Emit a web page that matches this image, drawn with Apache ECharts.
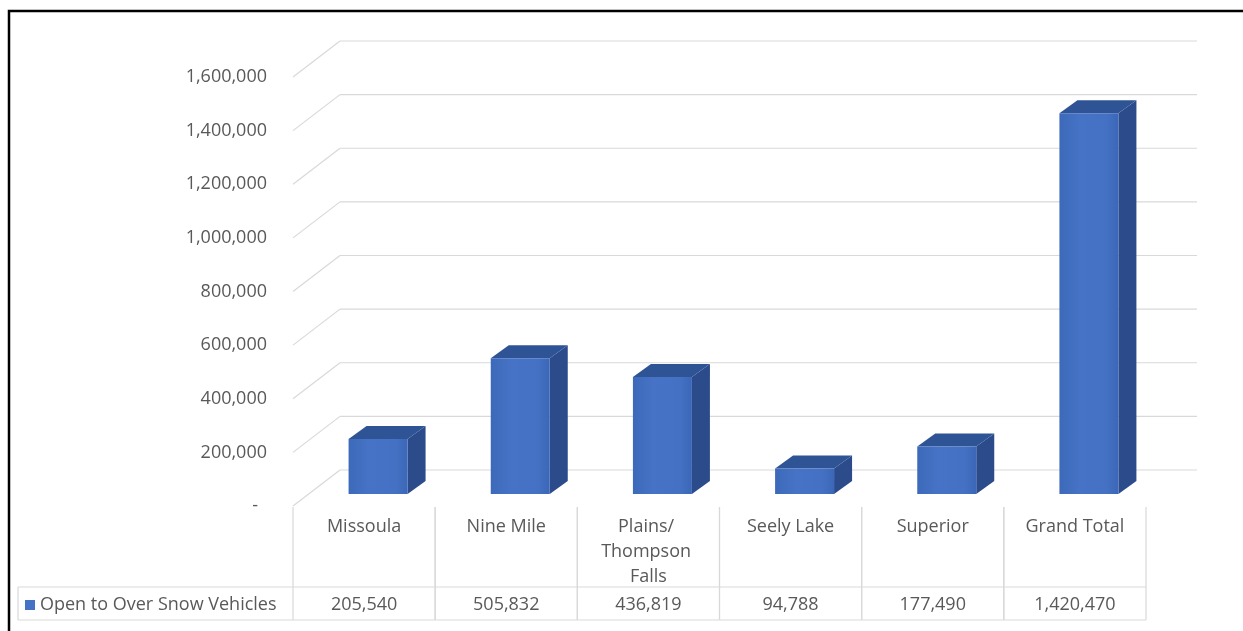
<!DOCTYPE html>
<html>
<head>
<meta charset="utf-8">
<script src="https://cdn.jsdelivr.net/npm/echarts@6/dist/echarts.min.js"></script>
<style>
html,body{margin:0;padding:0;background:#fff;}
#chart{width:1243px;height:631px;}
</style>
</head>
<body>
<div id="chart"></div>
<script>
// ---- data ----
const categories = ['Missoula', 'Nine Mile', 'Plains/ Thompson Falls', 'Seely Lake', 'Superior', 'Grand Total'];
const values = [205540, 505832, 436819, 94788, 177490, 1420470];
const seriesName = 'Open to Over Snow Vehicles';
const yTicks = [0, 200000, 400000, 600000, 800000, 1000000, 1200000, 1400000, 1600000];

// ---- style / geometry ----
const FONT = '"Open Sans", "Noto Sans", sans-serif';
const FS = 18;
const TXT = '#595959';
const GRID = '#d9d9d9';
const WALL_DX = 47, WALL_DY = -36, WALL_RIGHT_EXTRA = 51;
const BAR_SHIFT = 14, BAR_W = 59, BAR_FRONT_DY = -12, BAR_DX = 18, BAR_DY = -13;
const TABLE_TOP = 1, ROW_SPLIT = 81, TABLE_BOTTOM = 114, LEGEND_LEFT = 18;

const fmt = v => v.toLocaleString('en-US');

const chart = echarts.init(document.getElementById('chart'), null, {renderer: 'canvas'});

function gridRender(params, api) {
  const cs = params.coordSys;
  const v = api.value(0);
  const y = api.coord([0, v])[1];
  const x0 = cs.x;
  const xb = x0 + WALL_DX, yb = y + WALL_DY;
  const xr = cs.x + cs.width + WALL_RIGHT_EXTRA;
  const st = {stroke: GRID, lineWidth: 1.2, fill: null};
  return {
    type: 'group',
    children: [
      {type: 'line', shape: {x1: x0, y1: y, x2: xb, y2: yb}, style: st},
      {type: 'line', shape: {x1: xb, y1: yb, x2: xr, y2: yb}, style: st}
    ]
  };
}

function barRender(params, api) {
  const i = api.value(0);
  const v = api.value(1);
  const c0 = api.coord([i, 0]);
  const c1 = api.coord([i, v]);
  const xl = c0[0] + BAR_SHIFT - BAR_W / 2;
  const xr = xl + BAR_W;
  const yb = c0[1] + BAR_FRONT_DY;
  const yt = c1[1] + BAR_FRONT_DY;
  const front = new echarts.graphic.LinearGradient(0, 0, 1, 0, [
    {offset: 0, color: '#3d69ba'},
    {offset: 0.35, color: '#4673c5'},
    {offset: 0.8, color: '#4471c3'},
    {offset: 1, color: '#3c67b8'}
  ]);
  return {
    type: 'group',
    children: [
      {type: 'polygon', shape: {points: [[xr, yt], [xr + BAR_DX, yt + BAR_DY], [xr + BAR_DX, yb + BAR_DY], [xr, yb]]},
       style: {fill: '#2b4b8b'}},
      {type: 'polygon', shape: {points: [[xl, yt], [xl + BAR_DX, yt + BAR_DY], [xr + BAR_DX, yt + BAR_DY], [xr, yt]]},
       style: {fill: '#2f5496'}},
      {type: 'rect', shape: {x: xl, y: yt, width: BAR_W, height: yb - yt}, style: {fill: front}}
    ]
  };
}

function tableRender(params, api) {
  const i = api.value(0);
  const v = api.value(1);
  const c0 = api.coord([i, 0]);
  const bw = api.size([1, 0])[0];
  const xl = c0[0] - bw / 2, xr = c0[0] + bw / 2;
  const y0 = c0[1];
  const st = {stroke: GRID, lineWidth: 1.2, fill: null};
  const ch = [
    {type: 'line', shape: {x1: xl, y1: y0 + TABLE_TOP, x2: xl, y2: y0 + TABLE_BOTTOM}, style: st},
    {type: 'line', shape: {x1: xr, y1: y0 + TABLE_TOP, x2: xr, y2: y0 + TABLE_BOTTOM}, style: st},
    {type: 'line', shape: {x1: xl, y1: y0 + ROW_SPLIT, x2: xr, y2: y0 + ROW_SPLIT}, style: st},
    {type: 'line', shape: {x1: xl, y1: y0 + TABLE_BOTTOM, x2: xr, y2: y0 + TABLE_BOTTOM}, style: st},
    {type: 'text', style: {text: fmt(v), x: c0[0], y: y0 + (ROW_SPLIT + TABLE_BOTTOM) / 2 + 1,
      align: 'center', verticalAlign: 'middle', fontSize: FS, fontFamily: FONT, fill: TXT}}
  ];
  if (i === 0) {
    ch.push(
      {type: 'line', shape: {x1: LEGEND_LEFT, y1: y0 + ROW_SPLIT, x2: xl, y2: y0 + ROW_SPLIT}, style: st},
      {type: 'line', shape: {x1: LEGEND_LEFT, y1: y0 + TABLE_BOTTOM, x2: xl, y2: y0 + TABLE_BOTTOM}, style: st},
      {type: 'line', shape: {x1: LEGEND_LEFT, y1: y0 + ROW_SPLIT, x2: LEGEND_LEFT, y2: y0 + TABLE_BOTTOM}, style: st}
    );
  }
  return {type: 'group', children: ch};
}

const option = {
  animation: false,
  backgroundColor: '#ffffff',
  grid: {left: 293, right: 97, top: 77, bottom: 125, containLabel: false},
  legend: {
    data: [seriesName],
    left: 25, top: 596,
    icon: 'rect', itemWidth: 10, itemHeight: 10, itemGap: 5, padding: 0,
    textStyle: {fontSize: FS, color: TXT, fontFamily: FONT},
    selectedMode: false
  },
  xAxis: {
    type: 'category',
    data: categories,
    axisLine: {show: false},
    axisTick: {show: false},
    splitLine: {show: false},
    axisLabel: {
      interval: 0, margin: 8, verticalAlign: 'top', lineHeight: 25,
      width: 115, overflow: 'break',
      fontSize: FS, color: TXT, fontFamily: FONT
    }
  },
  yAxis: {
    type: 'value',
    min: 0, max: 1600000, interval: 200000,
    axisLine: {show: false},
    axisTick: {show: false},
    splitLine: {show: false},
    axisLabel: {
      margin: 26, fontSize: FS, color: TXT, fontFamily: FONT,
      formatter: v => v === 0 ? '{d|-}' : fmt(v),
      rich: {d: {fontSize: FS, color: TXT, fontFamily: FONT, padding: [0, 9, 0, 0]}}
    }
  },
  graphic: [
    {type: 'rect', shape: {x: 9, y: 11, width: 1400, height: 800}, style: {fill: null, stroke: '#000', lineWidth: 2.5}, z: 100}
  ],
  series: [
    {
      type: 'custom', name: 'grid', renderItem: gridRender, clip: false, silent: true, z: 1,
      data: yTicks.map(v => [v]), encode: {y: 0}
    },
    {
      type: 'custom', name: seriesName, renderItem: barRender, clip: false, z: 3,
      itemStyle: {color: '#4472C4'},
      data: values.map((v, i) => [i, v]), encode: {x: 0, y: 1}
    },
    {
      type: 'custom', name: 'table', renderItem: tableRender, clip: false, silent: true, z: 2,
      data: values.map((v, i) => [i, v]), encode: {x: 0, y: 1}
    }
  ]
};
chart.setOption(option);
</script>
</body>
</html>
